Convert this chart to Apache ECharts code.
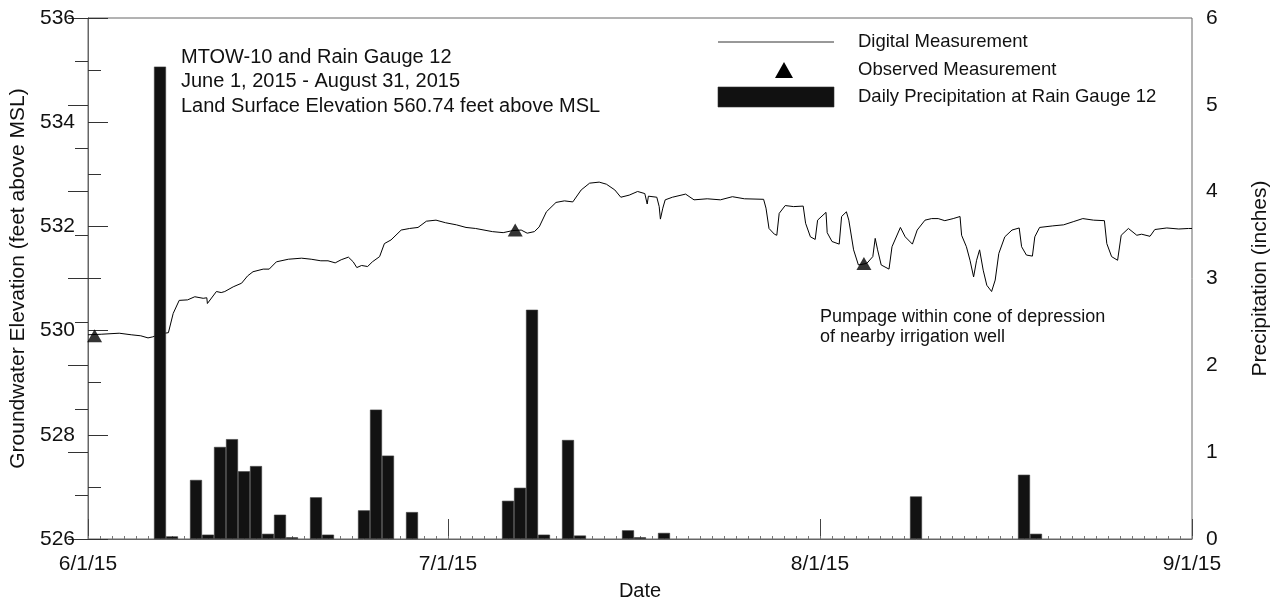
<!DOCTYPE html>
<html>
<head>
<meta charset="utf-8">
<title>MTOW-10 and Rain Gauge 12</title>
<script src="https://cdn.jsdelivr.net/npm/echarts@6/dist/echarts.min.js"></script>
<style>
  html, body { margin: 0; padding: 0; background: #fff; }
  #chart { width: 1279px; height: 601px; }
</style>
</head>
<body>
<div id="chart"></div>
<script>
// Days are counted from 6/1/15 (day 0) to 9/1/15 (day 92).
const monthTickDays = [0, 30, 61, 92];
const monthTickLabels = ['6/1/15', '7/1/15', '8/1/15', '9/1/15'];
const elevTicks = [526, 528, 530, 532, 534, 536];
const precipTicks = [0, 1, 2, 3, 4, 5, 6];

// Daily precipitation at Rain Gauge 12 (inches)
const precipDays = [6, 7, 9, 10, 11, 12, 13, 14, 15, 16, 17, 19, 20, 23, 24, 25, 27,
                    35, 36, 37, 38, 40, 41, 45, 46, 48, 69, 78, 79];
const precipInches = [5.44, 0.03, 0.68, 0.05, 1.06, 1.15, 0.78, 0.84, 0.06, 0.28, 0.02, 0.48, 0.05, 0.33, 1.49, 0.96, 0.31,
                      0.44, 0.59, 2.64, 0.05, 1.14, 0.04, 0.10, 0.02, 0.07, 0.49, 0.74, 0.06];

// Digital (transducer) groundwater elevation, feet above MSL
const gwDays = [0, 1.1, 2.6, 3.6, 4.4, 5.0, 5.4, 6.1, 6.7, 7.1, 7.6, 8.3, 8.9, 9.6, 9.9, 9.95, 10.7, 11.1, 11.4,
  12.1, 12.8, 13.3, 13.75, 14.6, 15.1, 15.7, 16.7, 17.8, 18.6, 19.4, 20.0, 20.6, 21.1, 21.7, 22.1, 22.4, 22.8,
  23.3, 23.7, 24.3, 24.7, 25.25, 26.1, 26.8, 27.5, 28.2, 29.0, 29.8, 30.7, 31.5, 32.3, 33.0, 33.7, 34.6, 35.4,
  36.1, 36.6, 37.2, 37.6, 38.2, 39.0, 39.7, 40.4, 41.1, 41.8, 42.6, 43.2, 43.9, 44.4, 45.1, 45.8, 46.4, 46.55,
  46.6, 46.7, 47.4, 47.6, 47.7, 47.9, 48.1, 48.7, 49.8, 50.5, 51.6, 52.7, 53.7, 54.7, 56.3, 56.5, 56.75, 57.2,
  57.4, 57.6, 58.1, 58.8, 59.6, 59.8, 60.2, 60.6, 60.8, 61.5, 61.6, 62.0, 62.6, 62.8, 63.2, 63.4, 63.8, 64.2,
  64.9, 65.4, 65.6, 65.8, 66.1, 66.75, 67.0, 67.7, 68.1, 68.7, 69.1, 69.75, 70.3, 70.85, 71.4, 72.1, 72.67,
  72.8, 73.2, 73.5, 73.8, 74.05, 74.3, 74.6, 74.9, 75.3, 75.6, 75.9, 76.4, 77.0, 77.6, 77.8, 78.2, 78.7, 78.9,
  79.3, 80.4, 81.3, 82.1, 82.9, 83.8, 84.7, 84.9, 85.3, 85.8, 86.1, 86.7, 87.4, 87.8, 88.5, 88.9, 89.9, 90.9,
  91.7, 92.0];
const gwElev = [529.92, 529.93, 529.95, 529.92, 529.90, 529.86, 529.88, 529.94, 529.96, 530.33, 530.58, 530.59,
  530.65, 530.62, 530.63, 530.52, 530.75, 530.73, 530.75, 530.84, 530.91, 531.05, 531.13, 531.18, 531.18, 531.32,
  531.37, 531.39, 531.37, 531.34, 531.34, 531.30, 531.36, 531.41, 531.32, 531.21, 531.25, 531.23, 531.32, 531.42,
  531.67, 531.74, 531.93, 531.96, 531.98, 532.10, 532.12, 532.07, 532.03, 531.98, 531.96, 531.93, 531.90, 531.88,
  531.92, 531.93, 531.87, 531.90, 531.99, 532.28, 532.46, 532.49, 532.47, 532.70, 532.83, 532.85, 532.81, 532.70,
  532.56, 532.60, 532.67, 532.63, 532.60, 532.43, 532.58, 532.56, 532.38, 532.14, 532.35, 532.51, 532.56, 532.62,
  532.51, 532.53, 532.51, 532.57, 532.53, 532.52, 532.35, 531.96, 531.85, 531.83, 532.25, 532.40, 532.38, 532.39,
  532.06, 531.80, 531.75, 532.12, 532.27, 531.88, 531.71, 531.66, 532.19, 532.28, 532.12, 531.55, 531.26, 531.29,
  531.42, 531.77, 531.55, 531.26, 531.18, 531.61, 531.98, 531.80, 531.66, 531.93, 532.12, 532.15, 532.15, 532.11,
  532.15, 532.19, 531.83, 531.61, 531.35, 531.03, 531.35, 531.55, 531.16, 530.87, 530.75, 530.97, 531.48, 531.80,
  531.93, 531.97, 531.61, 531.45, 531.43, 531.80, 531.98, 532.01, 532.03, 532.09, 532.15, 532.12, 532.11, 531.67,
  531.42, 531.35, 531.83, 531.96, 531.83, 531.85, 531.81, 531.94, 531.97, 531.95, 531.96, 531.96];

// Observed (tape-down) measurements
const obsDays = [0.55, 35.6, 64.66];
const obsElev = [529.90, 531.93, 531.29];

const FONT = '"Liberation Sans", Arial, sans-serif';
const INK = '#111';
const AXIS = '#666';

const chart = echarts.init(document.getElementById('chart'), null, { renderer: 'canvas' });

const option = {
  animation: false,
  backgroundColor: '#fff',
  textStyle: { fontFamily: FONT, color: INK },
  grid: {
    left: 88, right: 87, top: 18, bottom: 62,
    outerBoundsMode: 'none', containLabel: false,
    show: true, borderColor: AXIS, borderWidth: 1, backgroundColor: 'transparent'
  },
  xAxis: [
    {
      type: 'value', min: 0, max: 92,
      name: 'Date', nameLocation: 'middle', nameGap: 42,
      nameTextStyle: { fontFamily: FONT, fontSize: 20, color: INK },
      axisLine: { show: true, onZero: false, lineStyle: { color: AXIS, width: 1 } },
      axisTick: { show: true, inside: true, length: 20, customValues: monthTickDays, lineStyle: { color: '#444' } },
      axisLabel: {
        show: true, customValues: monthTickDays, margin: 15,
        fontFamily: FONT, fontSize: 21, color: INK,
        formatter: v => monthTickLabels[monthTickDays.indexOf(Math.round(v))] || ''
      },
      splitLine: { show: false }
    },
    {
      // daily minor ticks
      type: 'value', min: 0, max: 92, interval: 1, position: 'bottom',
      axisLine: { show: false },
      axisTick: { show: true, inside: true, length: 3, lineStyle: { color: '#777' } },
      axisLabel: { show: false },
      splitLine: { show: false }
    }
  ],
  yAxis: [
    {
      type: 'value', min: elevTicks[0], max: elevTicks[elevTicks.length - 1], interval: 2,
      name: 'Groundwater Elevation (feet above MSL)', nameLocation: 'middle', nameGap: 57, nameRotate: 90,
      nameTextStyle: { fontFamily: FONT, fontSize: 21, color: INK },
      axisLine: { show: true, lineStyle: { color: AXIS } },
      axisTick: { show: true, inside: true, length: 20, lineStyle: { color: '#333' } },
      minorTick: { show: true, splitNumber: 2, length: 13, lineStyle: { color: '#333' } },
      axisLabel: { margin: 13, fontFamily: FONT, fontSize: 21, color: INK },
      splitLine: { show: false }
    },
    {
      type: 'value', min: precipTicks[0], max: precipTicks[precipTicks.length - 1], interval: 1,
      position: 'right',
      name: 'Precipitation (inches)', nameLocation: 'middle', nameGap: 58, nameRotate: 90,
      nameTextStyle: { fontFamily: FONT, fontSize: 21, color: INK },
      axisLine: { show: true, lineStyle: { color: AXIS } },
      axisTick: { show: true, inside: true, length: 20, lineStyle: { color: '#333' } },
      minorTick: { show: true, splitNumber: 2, length: 13, lineStyle: { color: '#333' } },
      axisLabel: { margin: 14, fontFamily: FONT, fontSize: 21, color: INK },
      splitLine: { show: false }
    }
  ],
  series: [
    {
      name: 'Digital Measurement', type: 'line',
      xAxisIndex: 0, yAxisIndex: 0,
      data: gwDays.map((d, i) => [d, gwElev[i]]),
      showSymbol: false, symbol: 'none',
      lineStyle: { color: '#000', width: 1 },
      z: 2
    },
    {
      name: 'Daily Precipitation at Rain Gauge 12', type: 'bar',
      xAxisIndex: 0, yAxisIndex: 1,
      data: precipDays.map((d, i) => [d, precipInches[i]]),
      barWidth: 12,
      itemStyle: { color: '#121212', borderColor: '#3a3a3a', borderWidth: 0.6 },
      z: 3
    },
    {
      name: 'Observed Measurement', type: 'scatter',
      xAxisIndex: 0, yAxisIndex: 0,
      data: obsDays.map((d, i) => [d, obsElev[i]]),
      symbol: 'triangle', symbolSize: [15, 13],
      itemStyle: { color: '#000' },
      z: 4
    }
  ],
  graphic: [
    // site title block
    {
      type: 'text', left: 181, top: 45, silent: true,
      style: {
        text: 'MTOW-10 and Rain Gauge 12\nJune 1, 2015 - August 31, 2015\nLand Surface Elevation 560.74 feet above MSL',
        font: '20px ' + FONT, fill: INK, lineHeight: 24.5
      }
    },
    // pumping note
    {
      type: 'text', left: 820, top: 307, silent: true,
      style: {
        text: 'Pumpage within cone of depression\nof nearby irrigation well',
        font: '18px ' + FONT, fill: INK, lineHeight: 20
      }
    },
    // legend
    { type: 'line', silent: true, shape: { x1: 718, y1: 42, x2: 834, y2: 42 }, style: { stroke: '#333', lineWidth: 1 } },
    { type: 'polygon', silent: true, shape: { points: [[784, 62], [775, 78], [793, 78]] }, style: { fill: '#000' } },
    { type: 'rect', silent: true, shape: { x: 718, y: 87, width: 116, height: 20 }, style: { fill: '#111', stroke: '#333', lineWidth: 0.6 } },
    { type: 'text', left: 858, top: 32, silent: true, style: { text: 'Digital Measurement', font: '18.5px ' + FONT, fill: INK } },
    { type: 'text', left: 858, top: 60, silent: true, style: { text: 'Observed Measurement', font: '18.5px ' + FONT, fill: INK } },
    { type: 'text', left: 858, top: 87, silent: true, style: { text: 'Daily Precipitation at Rain Gauge 12', font: '18.5px ' + FONT, fill: INK } }
  ]
};

chart.setOption(option);
</script>
</body>
</html>
